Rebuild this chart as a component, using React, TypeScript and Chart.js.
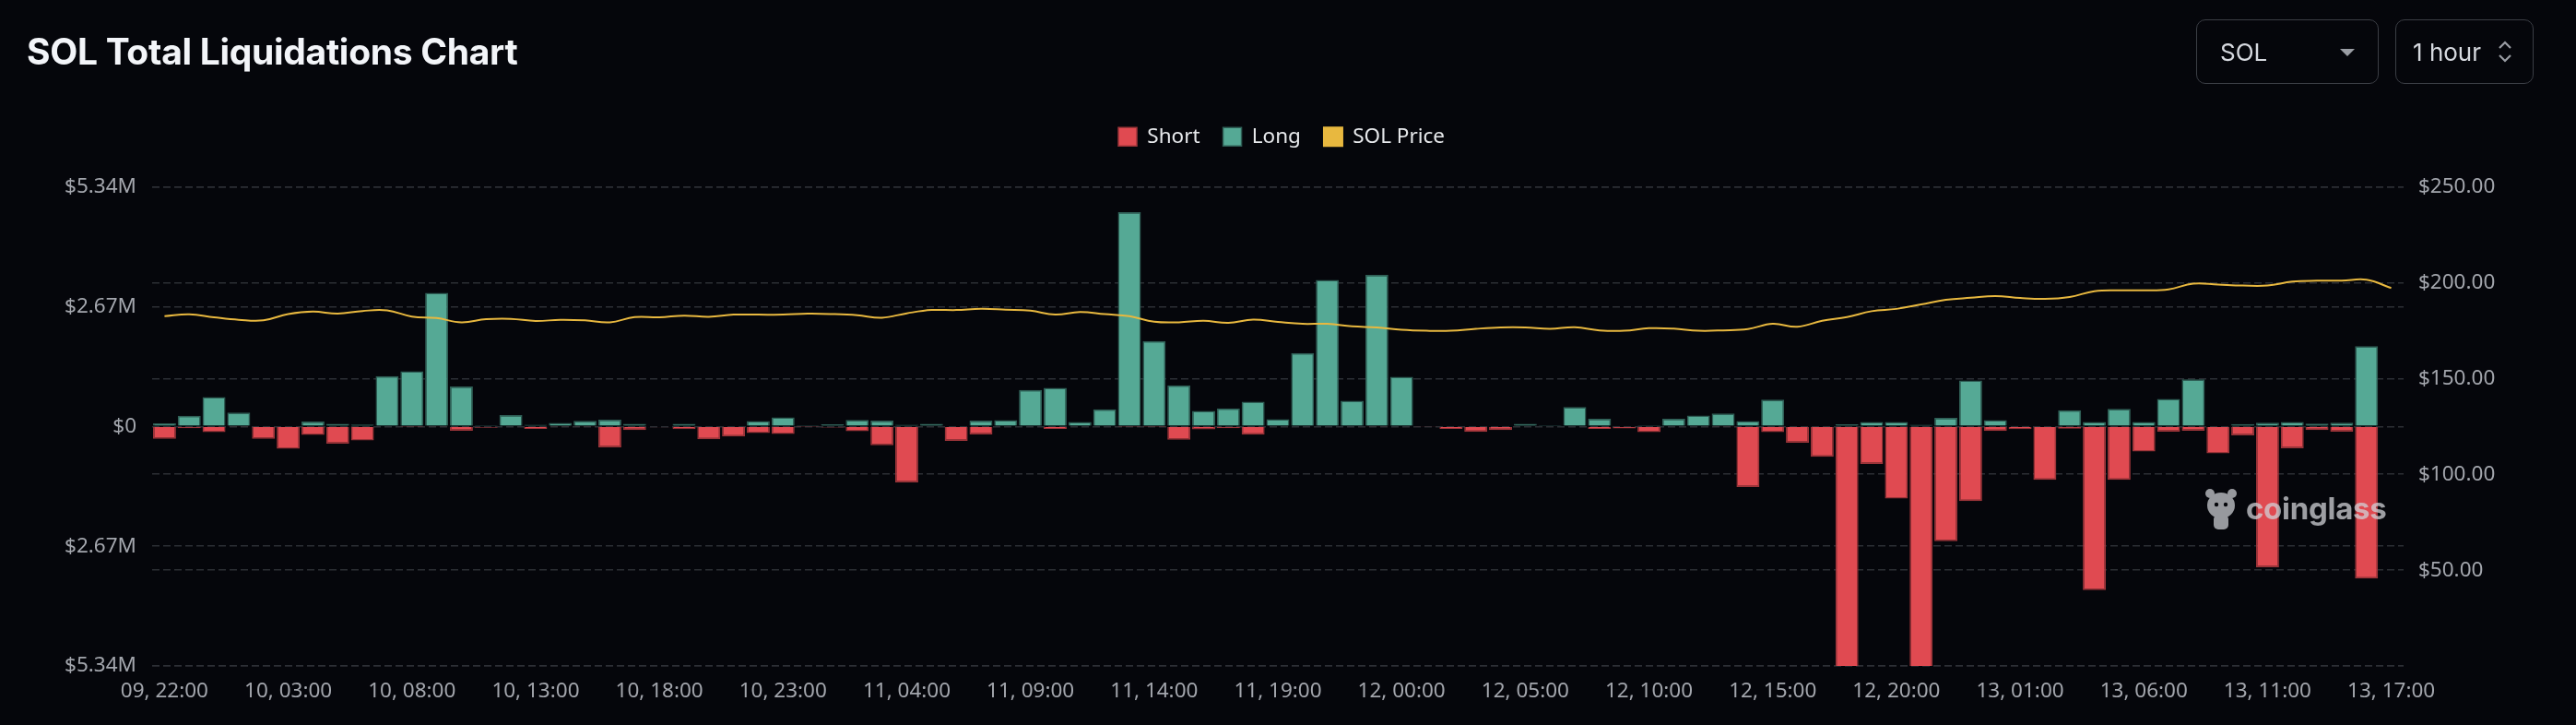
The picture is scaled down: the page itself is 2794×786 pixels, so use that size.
import React, { useEffect, useRef } from 'react';
import { Chart, registerables } from 'chart.js';

Chart.register(...registerables);

// ---------- data ----------
const categories: string[] = [
  '09, 22:00', '09, 23:00',
  '10, 00:00', '10, 01:00', '10, 02:00', '10, 03:00', '10, 04:00', '10, 05:00', '10, 06:00', '10, 07:00',
  '10, 08:00', '10, 09:00', '10, 10:00', '10, 11:00', '10, 12:00', '10, 13:00', '10, 14:00', '10, 15:00',
  '10, 16:00', '10, 17:00', '10, 18:00', '10, 19:00', '10, 20:00', '10, 21:00', '10, 22:00', '10, 23:00',
  '11, 00:00', '11, 01:00', '11, 02:00', '11, 03:00', '11, 04:00', '11, 05:00', '11, 06:00', '11, 07:00',
  '11, 08:00', '11, 09:00', '11, 10:00', '11, 11:00', '11, 12:00', '11, 13:00', '11, 14:00', '11, 15:00',
  '11, 16:00', '11, 17:00', '11, 18:00', '11, 19:00', '11, 20:00', '11, 21:00', '11, 22:00', '11, 23:00',
  '12, 00:00', '12, 01:00', '12, 02:00', '12, 03:00', '12, 04:00', '12, 05:00', '12, 06:00', '12, 07:00',
  '12, 08:00', '12, 09:00', '12, 10:00', '12, 11:00', '12, 12:00', '12, 13:00', '12, 14:00', '12, 15:00',
  '12, 16:00', '12, 17:00', '12, 18:00', '12, 19:00', '12, 20:00', '12, 21:00', '12, 22:00', '12, 23:00',
  '13, 00:00', '13, 01:00', '13, 02:00', '13, 03:00', '13, 04:00', '13, 05:00', '13, 06:00', '13, 07:00',
  '13, 08:00', '13, 09:00', '13, 10:00', '13, 11:00', '13, 12:00', '13, 13:00', '13, 14:00', '13, 15:00',
  '13, 17:00',
];

// Long liquidations, $M
const longValues: number[] = [
  0.069, 0.234, 0.653, 0.31, 0, 0, 0.11, 0.055, 0.04, 1.12,
  1.23, 2.976, 0.887, 0.005, 0.254, 0.034, 0.076, 0.124, 0.151, 0.055,
  0, 0.055, 0, 0, 0.117, 0.2, 0.027, 0.048, 0.144, 0.13,
  0.034, 0.055, 0, 0.13, 0.137, 0.811, 0.859, 0.096, 0.378, 4.777,
  1.904, 0.914, 0.344, 0.4, 0.55, 0.158, 1.636, 3.265, 0.57, 3.375,
  1.107, 0, 0, 0, 0, 0.055, 0.027, 0.433, 0.172, 0,
  0.027, 0.172, 0.24, 0.289, 0.117, 0.598, 0, 0, 0.048, 0.096,
  0.096, 0.034, 0.192, 1.024, 0.137, 0.02, 0, 0.36, 0.1, 0.39,
  0.1, 0.61, 1.05, 0, 0.05, 0.08, 0.1, 0.06, 0.08, 1.79,
  0,
];

// Short liquidations, $M (drawn below zero)
const shortValues: number[] = [
  0.275, 0.04, 0.13, 0.01, 0.28, 0.5, 0.19, 0.385, 0.316, 0,
  0.005, 0.01, 0.096, 0.03, 0, 0.055, 0.01, 0.01, 0.467, 0.082,
  0.02, 0.062, 0.289, 0.227, 0.151, 0.172, 0.005, 0.027, 0.11, 0.42,
  1.25, 0, 0.323, 0.179, 0, 0, 0.055, 0, 0, 0.005,
  0.005, 0.296, 0.069, 0.041, 0.186, 0, 0, 0, 0, 0.01,
  0, 0.01, 0.055, 0.124, 0.082, 0, 0, 0, 0.055, 0.048,
  0.13, 0, 0, 0.01, 1.354, 0.13, 0.364, 0.68, 6.2, 0.839,
  1.608, 6.6, 2.557, 1.663, 0.103, 0.062, 1.19, 0.05, 3.65, 1.19,
  0.56, 0.12, 0.1, 0.6, 0.2, 3.14, 0.49, 0.08, 0.12, 3.39,
  0,
];

// SOL price, $
const priceValues: number[] = [
  182.5, 183.5, 181.9, 180.6, 180.3, 183.6, 184.9, 183.8, 185.2, 185.5,
  182.3, 181.5, 179.3, 180.9, 181.1, 180.0, 180.6, 180.3, 179.3, 182.0,
  181.9, 182.8, 182.2, 183.3, 183.3, 183.3, 183.8, 183.6, 183.0, 181.7,
  184.0, 185.7, 185.7, 186.3, 185.9, 185.4, 183.3, 184.7, 183.6, 182.5,
  179.6, 179.3, 180.1, 179.0, 180.7, 179.5, 178.5, 178.5, 177.2, 176.6,
  175.4, 174.9, 174.9, 175.9, 176.6, 176.6, 175.9, 176.7, 175.1, 174.9,
  176.2, 176.0, 174.9, 175.1, 175.8, 178.5, 177.0, 180.1, 182.0, 185.1,
  186.3, 188.6, 191.0, 192.1, 193.0, 192.0, 191.5, 192.5, 195.5, 196.0,
  196.0, 196.5, 199.5, 199.0, 198.5, 198.5, 200.5, 201.0, 201.0, 201.5,
  197.2,
];

const leftTicks: number[] = [-5.34, -2.67, 0, 2.67, 5.34];
const rightTicks: number[] = [0, 50, 100, 150, 200, 250];

// ---------- style ----------
const BG = '#05060b';
const RED = '#e04a51';
const RED_BORDER = '#9c3439';
const TEAL = '#55a995';
const TEAL_BORDER = '#2f5f56';
const YELLOW = '#e8b83f';
const GRID = '#2c2f35';
const TICK = '#a3a6ad';
const TICK_FONT = { family: '"Noto Sans", sans-serif', size: 22.5 };

export default function App() {
  const canvasRef = useRef<HTMLCanvasElement>(null);

  useEffect(() => {
    document.body.style.margin = '0';
    document.body.style.background = BG;
    const canvas = canvasRef.current;
    if (!canvas) return;

    const legendGap = {
      id: 'legendGap',
      beforeLayout(chart: any) {
        const lg = chart.legend;
        if (lg && !lg.__patched) {
          const orig = lg.fit.bind(lg);
          lg.fit = function () {
            orig();
            this.height += 33;
          };
          lg.__patched = true;
        }
      },
    };

    const chart = new Chart(canvas, {
      type: 'bar',
      data: {
        labels: categories,
        datasets: [
          {
            type: 'bar',
            label: 'Short',
            data: shortValues.map((v) => -v),
            backgroundColor: RED,
            borderColor: RED_BORDER,
            borderWidth: 1.5,
            yAxisID: 'y',
            order: 1,
            barPercentage: 0.93,
            categoryPercentage: 1,
          },
          {
            type: 'bar',
            label: 'Long',
            data: longValues,
            backgroundColor: TEAL,
            borderColor: TEAL_BORDER,
            borderWidth: 1.5,
            yAxisID: 'y',
            order: 1,
            barPercentage: 0.93,
            categoryPercentage: 1,
          },
          {
            type: 'line',
            label: 'SOL Price',
            data: priceValues,
            borderColor: YELLOW,
            backgroundColor: YELLOW,
            borderWidth: 2,
            pointRadius: 0,
            tension: 0.4,
            yAxisID: 'y1',
            order: 0,
          } as any,
        ],
      },
      options: {
        animation: false,
        responsive: true,
        maintainAspectRatio: false,
        layout: { padding: { top: 112, left: 0, right: 14, bottom: 0 } },
        plugins: {
          legend: {
            position: 'top',
            labels: {
              boxWidth: 20,
              boxHeight: 20,
              padding: 25,
              color: '#e6e8eb',
              font: { family: '"Noto Sans", sans-serif', size: 22.5 },
              sort: (a: any, b: any) => a.datasetIndex - b.datasetIndex,
            },
          },
          tooltip: { enabled: false },
        },
        scales: {
          x: {
            stacked: true,
            grid: { display: false, drawTicks: false },
            border: { display: false },
            ticks: {
              autoSkip: false,
              maxRotation: 0,
              minRotation: 0,
              padding: 14,
              color: TICK,
              font: TICK_FONT,
              callback: (_v: any, i: number) => (i % 5 === 0 ? categories[i] : ''),
            },
            afterFit: (s: any) => {
              s.height = 64;
            },
          },
          y: {
            position: 'left',
            stacked: true,
            min: -5.34,
            max: 5.34,
            afterBuildTicks: (s: any) => {
              s.ticks = leftTicks.map((v) => ({ value: v }));
            },
            grid: { color: GRID, lineWidth: 1.5, drawTicks: false },
            border: { display: false, dash: [8, 4] },
            ticks: {
              padding: 17,
              color: TICK,
              font: TICK_FONT,
              callback: (v: any) => (Math.abs(v) < 1e-9 ? '$0' : '$' + Math.abs(v).toFixed(2) + 'M'),
            },
            afterFit: (s: any) => {
              s.width = 165;
            },
          },
          y1: {
            position: 'right',
            min: 0,
            max: 250,
            afterBuildTicks: (s: any) => {
              s.ticks = rightTicks.map((v) => ({ value: v }));
            },
            grid: { color: GRID, lineWidth: 1.5, drawTicks: false },
            border: { display: false, dash: [8, 4] },
            ticks: {
              padding: 16,
              color: TICK,
              font: TICK_FONT,
              callback: (v: any) => (v === 0 ? '' : '$' + Number(v).toFixed(2)),
            },
            afterFit: (s: any) => {
              s.width = 173;
            },
          },
        },
      } as any,
      plugins: [legendGap as any],
    });

    return () => chart.destroy();
  }, []);

  return (
    <div
      style={{
        position: 'relative',
        width: 2794,
        height: 786,
        background: BG,
        overflow: 'hidden',
        fontFamily: 'Inter, "Noto Sans", sans-serif',
      }}
    >
      <div style={{ position: 'absolute', left: 0, top: 0, width: 2794, height: 786 }}>
        <canvas ref={canvasRef} />
      </div>

      <div
        style={{
          position: 'absolute',
          left: 29,
          top: 33,
          fontFamily: 'Inter, sans-serif',
          fontWeight: 700,
          fontSize: 39,
          lineHeight: '46px',
          letterSpacing: '-0.3px',
          color: '#f3f5f9',
          whiteSpace: 'nowrap',
        }}
      >
        SOL Total Liquidations Chart
      </div>

      <div
        style={{
          position: 'absolute',
          left: 2382,
          top: 21,
          width: 198,
          height: 70,
          boxSizing: 'border-box',
          border: '1.5px solid #3b3e45',
          borderRadius: 10,
          display: 'flex',
          alignItems: 'center',
          paddingLeft: 25,
          fontSize: 26,
          color: '#d6d9df',
        }}
      >
        SOL
        <div
          style={{
            position: 'absolute',
            left: 155,
            top: 31,
            width: 0,
            height: 0,
            borderLeft: '8px solid transparent',
            borderRight: '8px solid transparent',
            borderTop: '8px solid #9a9da4',
          }}
        />
      </div>

      <div
        style={{
          position: 'absolute',
          left: 2598,
          top: 21,
          width: 150,
          height: 70,
          boxSizing: 'border-box',
          border: '1.5px solid #3b3e45',
          borderRadius: 10,
          display: 'flex',
          alignItems: 'center',
          paddingLeft: 18,
          fontSize: 26,
          color: '#d6d9df',
        }}
      >
        1 hour
        <svg
          width={16}
          height={26}
          style={{ position: 'absolute', left: 110, top: 21 }}
          viewBox="0 0 16 26"
        >
          <path d="M2 9 L8 3 L14 9" stroke="#9a9da4" strokeWidth={2.2} fill="none" />
          <path d="M2 17 L8 23 L14 17" stroke="#9a9da4" strokeWidth={2.2} fill="none" />
        </svg>
      </div>

      <div
        style={{
          position: 'absolute',
          left: 2390,
          top: 526,
          display: 'flex',
          alignItems: 'center',
          gap: 8,
          opacity: 0.75,
          pointerEvents: 'none',
        }}
      >
        <svg width={38} height={50} viewBox="0 0 38 50">
          <ellipse cx={19} cy={22} rx={15} ry={14} fill="#c9cbd0" />
          <circle cx={7} cy={9} r={5} fill="#c9cbd0" />
          <circle cx={31} cy={9} r={5} fill="#c9cbd0" />
          <rect x={11} y={32} width={16} height={16} rx={5} fill="#c9cbd0" />
          <circle cx={14} cy={21} r={2.2} fill={BG} />
          <circle cx={24} cy={21} r={2.2} fill={BG} />
        </svg>
        <span
          style={{
            fontFamily: 'Inter, sans-serif',
            fontWeight: 700,
            fontSize: 33,
            color: '#d0d2d7',
            letterSpacing: '-0.3px',
          }}
        >
          coinglass
        </span>
      </div>
    </div>
  );
}
